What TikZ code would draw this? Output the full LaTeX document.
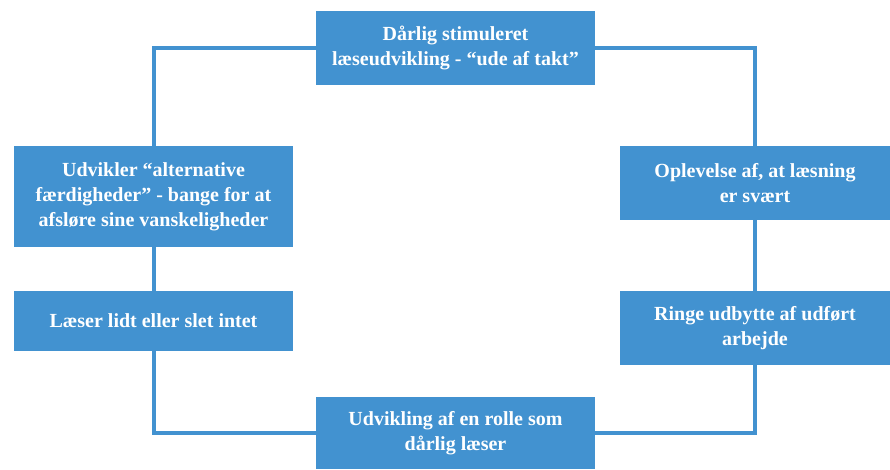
\documentclass[tikz,border=0pt]{standalone}
\usepackage{fontspec}
\setmainfont{Liberation Serif}
\definecolor{boxblue}{RGB}{66,146,208}
\begin{document}
\begin{tikzpicture}[x=1pt,y=-1pt,
  box/.style={fill=boxblue,text=white,font=\bfseries\fontsize{20}{25}\selectfont,align=center,inner sep=0pt,anchor=center},
  link/.style={draw=boxblue,line width=4pt}]
\useasboundingbox (0,0) rectangle (890,469);
\node[box,minimum width=279pt,minimum height=74pt] (top) at (455.5,48) {Dårlig stimuleret\\læseudvikling - “ude af takt”};
\node[box,minimum width=279pt,minimum height=101pt] (lt) at (153.5,196.5) {Udvikler “alternative\\færdigheder” - bange for at\\afsløre sine vanskeligheder};
\node[box,minimum width=279pt,minimum height=60pt] (lb) at (153.5,321) {Læser lidt eller slet intet};
\node[box,minimum width=270pt,minimum height=74pt] (rt) at (755,183) {Oplevelse af, at læsning\\er svært};
\node[box,minimum width=270pt,minimum height=74pt] (rb) at (755,328) {Ringe udbytte af udført\\arbejde};
\node[box,minimum width=279pt,minimum height=72pt] (bot) at (455.5,433) {Udvikling af en rolle som\\dårlig læser};
\draw[link] (top.west) -| (lt.north);
\draw[link] (lt.south) -- (lb.north);
\draw[link] (lb.south) |- (bot.west);
\draw[link] (bot.east) -| (rb.south);
\draw[link] (rb.north) -- (rt.south);
\draw[link] (rt.north) |- (top.east);
\end{tikzpicture}
\end{document}
